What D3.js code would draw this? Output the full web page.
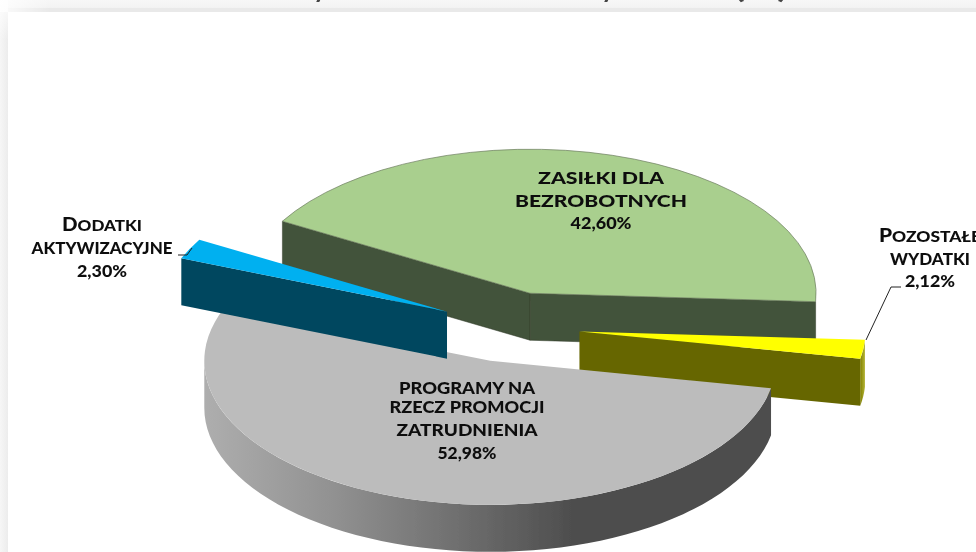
<!DOCTYPE html>
<html><head><meta charset="utf-8">
<script src="https://cdn.jsdelivr.net/npm/d3@7/dist/d3.min.js"></script>
<style>html,body{margin:0;padding:0;background:#fff;overflow:hidden}</style>
</head><body><svg id="c" width="976" height="552"></svg>
<script>
const categories = ["ZASIŁKI DLA BEZROBOTNYCH","POZOSTAŁE WYDATKI","PROGRAMY NA RZECZ PROMOCJI ZATRUDNIENIA","DODATKI AKTYWIZACYJNE"];
const values = [42.60,2.12,52.98,2.30];
const valueLabels = ["42,60%","2,12%","52,98%","2,30%"];
const topColors = ["#a9cf8e","#ffff00","#bcbcbc","#00b0f0"];
const wallColors = ["#43523a","#666600","#4d4d4d","#00475f"];

const W=976,H=552, cx=510, cy=327, R=286, squash=0.5035, depth=47, explode=70;
const svg=d3.select("#c");
const defs=svg.append("defs");
const fr=defs.append("linearGradient").attr("id","bandTop").attr("x1",0).attr("y1",0).attr("x2",0).attr("y2",1);
fr.append("stop").attr("offset",0).attr("stop-color","#f7f7f7");
fr.append("stop").attr("offset",0.62).attr("stop-color","#f3f3f3");
fr.append("stop").attr("offset",0.7).attr("stop-color","#e9e9e9");
fr.append("stop").attr("offset",1).attr("stop-color","#e9e9e9");
const frl=defs.append("linearGradient").attr("id","bandLeft").attr("x1",0).attr("y1",0).attr("x2",1).attr("y2",0);
frl.append("stop").attr("offset",0).attr("stop-color","#f6f6f6");
frl.append("stop").attr("offset",1).attr("stop-color","#ececec");
const fadeH=defs.append("linearGradient").attr("id","fadeH").attr("x1",0).attr("y1",0).attr("x2",1).attr("y2",0);
fadeH.append("stop").attr("offset",0).attr("stop-color","#fff").attr("stop-opacity",0.85);
fadeH.append("stop").attr("offset",1).attr("stop-color","#fff").attr("stop-opacity",0);
const fadeV=defs.append("linearGradient").attr("id","fadeV").attr("x1",0).attr("y1",0).attr("x2",0).attr("y2",1);
fadeV.append("stop").attr("offset",0).attr("stop-color","#fff").attr("stop-opacity",0.85);
fadeV.append("stop").attr("offset",1).attr("stop-color","#fff").attr("stop-opacity",0);
const g1=defs.append("linearGradient").attr("id","greyWall").attr("gradientUnits","userSpaceOnUse").attr("x1",204).attr("x2",575).attr("y1",0).attr("y2",0);
[[0,"#aeaeae"],[0.35,"#919191"],[0.75,"#686868"],[1,"#4d4d4d"]].forEach(s=>g1.append("stop").attr("offset",s[0]).attr("stop-color",s[1]));
const g2=defs.append("linearGradient").attr("id","olive").attr("x1",0).attr("x2",1).attr("y1",0).attr("y2",0);
g2.append("stop").attr("offset",0).attr("stop-color","#808000");
g2.append("stop").attr("offset",1).attr("stop-color","#b5b53a");
const soft=defs.append("filter").attr("id","soft").attr("x","-5%").attr("y","-5%").attr("width","110%").attr("height","110%");
soft.append("feGaussianBlur").attr("stdDeviation",0.45);
const softT=defs.append("filter").attr("id","softT").attr("x","-5%").attr("y","-5%").attr("width","110%").attr("height","110%");
softT.append("feGaussianBlur").attr("stdDeviation",0.4);

// frame
svg.append("rect").attr("width",W).attr("height",12).attr("fill","url(#bandTop)");
svg.append("rect").attr("y",0).attr("width",8).attr("height",H).attr("fill","url(#bandLeft)");
svg.append("rect").attr("width",50).attr("height",12).attr("fill","url(#fadeH)");
svg.append("rect").attr("width",8).attr("height",40).attr("fill","url(#fadeV)");

// clipped title remnants at the top edge
const titleBits=svg.append("g").attr("font-family","Lato, sans-serif").attr("font-weight",700).attr("fill","#444").attr("font-size",26).attr("text-anchor","middle").attr("filter","url(#softT)");
titleBits.append("text").attr("x",320).attr("y",-2).text("y");
titleBits.append("text").attr("x",608).attr("y",-2).text("y");
titleBits.append("text").attr("x",761).attr("y",-2).attr("textLength",54).attr("lengthAdjust","spacingAndGlyphs").text("(%)");

const pie=d3.pie().sort(null).value(d=>d).startAngle(-60*Math.PI/180).endAngle(300*Math.PI/180);
const arcs=pie(values);
const arcGen=d3.arc().innerRadius(0).outerRadius(R);
function off(a){const m=(a.startAngle+a.endAngle)/2;return [cx+explode*Math.sin(m),cy-explode*Math.cos(m)*squash];}
function pt(c,ang,r=R){return [c[0]+r*Math.sin(ang),c[1]-r*Math.cos(ang)*squash];}
function wall(p,q){return `M${p[0]},${p[1]}L${q[0]},${q[1]}L${q[0]},${q[1]+depth}L${p[0]},${p[1]+depth}Z`;}
function outer(c,a0,a1){
  const n=60; const up=[],dn=[];
  for(let i=0;i<=n;i++){const a=a0+(a1-a0)*i/n;const p=pt(c,a);up.push(p);dn.unshift([p[0],p[1]+depth]);}
  return d3.line()(up.concat(dn))+"Z";
}
const chart=svg.append("g").attr("filter","url(#soft)");
[0,1,2,3].forEach(i=>{
  const a=arcs[i], c=off(a), p0=pt(c,a.startAngle), p1=pt(c,a.endAngle), g=chart.append("g");
  const sideFill = wallColors[i];
  if(i===2){
    g.append("path").attr("d",outer(c,a.startAngle,3*Math.PI/2)).attr("fill","url(#greyWall)");
  }
  if(i===1){
    g.append("path").attr("d",outer(c,a.startAngle,a.endAngle)).attr("fill","url(#olive)");
    g.append("path").attr("d",wall(c,p1)).attr("fill",sideFill);
  }
  if(i===0){
    g.append("path").attr("d",wall(p0,c)).attr("fill",sideFill).attr("stroke","#2f3a29").attr("stroke-width",0.5);
    g.append("path").attr("d",wall(c,p1)).attr("fill",sideFill).attr("stroke","#2f3a29").attr("stroke-width",0.5);
  }
  if(i===3){
    g.append("path").attr("d",wall(p0,c)).attr("fill",sideFill);
  }
  g.append("path").attr("transform",`translate(${c[0]},${c[1]}) scale(1,${squash})`).attr("d",arcGen(a)).attr("fill",topColors[i])
    .attr("stroke",i===0?"#6d7d60":"none").attr("stroke-width",i===0?0.7:0).attr("vector-effect","non-scaling-stroke");
});

// leader lines
const lead=svg.append("g").attr("fill","none").attr("stroke","#222").attr("stroke-width",1);
lead.append("path").attr("d",d3.line()([[178,255],[187,255],[192,248]]));
lead.append("path").attr("d",d3.line()([[901,287],[891,287],[866,340]]));

// labels: [cap, rest, baseline, width]
const labelSets=[
 {x:601,rows:[["","ZASIŁKI DLA",184,126],["","BEZROBOTNYCH",207,172],["",valueLabels[0],229,61]]},
 {x:930,rows:[["P","OZOSTAŁE",242,102],["","WYDATKI",265,80],["",valueLabels[1],287,50]]},
 {x:467,rows:[["","PROGRAMY NA",394,136],["","RZECZ PROMOCJI",413,155],["","ZATRUDNIENIA",436,141],["",valueLabels[2],459,59]]},
 {x:102,rows:[["D","ODATKI",231,80],["","AKTYWIZACYJNE",254,141],["",valueLabels[3],277,50]]}
];
const lab=svg.append("g").attr("font-family","Lato, 'Open Sans', sans-serif").attr("font-weight",900).attr("fill","#111").attr("text-anchor","middle").attr("filter","url(#softT)");
labelSets.forEach(s=>{
  s.rows.forEach(r=>{
    const t=lab.append("text").attr("x",s.x).attr("y",r[2]).attr("font-size",r[0]?15:16.5)
      .attr("textLength",r[3]).attr("lengthAdjust","spacingAndGlyphs");
    if(r[0]) t.append("tspan").attr("font-size",18).text(r[0]);
    t.append("tspan").text(r[1]);
  });
});
</script></body></html>
